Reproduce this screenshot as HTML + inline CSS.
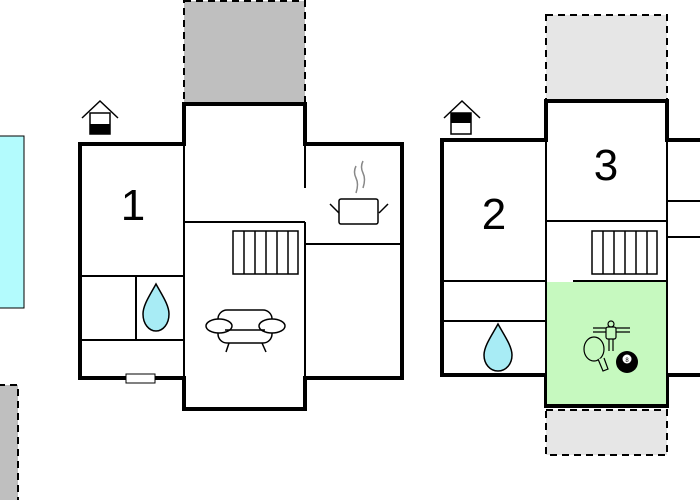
<!DOCTYPE html>
<html><head><meta charset="utf-8"><style>html,body{margin:0;padding:0;background:#fff}svg{display:block}</style></head><body>
<svg width="700" height="500" viewBox="0 0 700 500" xmlns="http://www.w3.org/2000/svg" font-family="Liberation Sans, sans-serif">
<!-- left-side elements -->
<rect x="-2" y="136" width="26" height="172" fill="#b3fbfd" stroke="#000" stroke-width="1"/>
<rect x="-2" y="385" width="20" height="120" fill="#bfbfbf" stroke="#000" stroke-width="2" stroke-dasharray="7,5"/>
<!-- plan 1 -->
<rect x="184" y="1" width="121" height="102" fill="#bfbfbf" stroke="#000" stroke-width="2" stroke-dasharray="7,5"/>
<polygon points="80,144 184,144 184,104 305,104 305,144 402,144 402,378 305,378 305,409 184,409 184,378 80,378" fill="#fff" stroke="#000" stroke-width="4"/>
<g stroke="#000" stroke-width="2" fill="none">
<line x1="184" y1="144" x2="184" y2="378"/>
<line x1="305" y1="144" x2="305" y2="188"/>
<line x1="305" y1="222" x2="305" y2="378"/>
<line x1="184" y1="222" x2="305" y2="222"/>
<line x1="305" y1="244" x2="402" y2="244"/>
<line x1="80" y1="276" x2="184" y2="276"/>
<line x1="80" y1="340" x2="184" y2="340"/>
<line x1="136" y1="276" x2="136" y2="340"/>
</g>
<rect x="126" y="374" width="29" height="9" fill="#fff" stroke="#000" stroke-width="1"/>
<text x="133" y="220" font-size="44" text-anchor="middle">1</text>
<g stroke="#000" stroke-width="1.5" fill="#fff">
<rect x="233" y="231" width="65" height="43"/>
<line x1="244" y1="231" x2="244" y2="274"/><line x1="255" y1="231" x2="255" y2="274"/><line x1="266" y1="231" x2="266" y2="274"/><line x1="277" y1="231" x2="277" y2="274"/><line x1="288" y1="231" x2="288" y2="274"/>
</g>
<path d="M156,284 C150,295 143,305 143,314 C143,324 149,331 156,331 C163,331 169,324 169,314 C169,305 162,295 156,284Z" fill="#a8ecf5" stroke="#000" stroke-width="1.5"/>
<g stroke="#000" stroke-width="1.5" fill="#fff">
<rect x="218" y="310" width="54" height="33" rx="9"/>
<ellipse cx="219" cy="326" rx="13" ry="7"/>
<ellipse cx="272" cy="326" rx="13" ry="7"/>
<line x1="229" y1="343" x2="226" y2="352"/><line x1="262" y1="343" x2="266" y2="352"/>
<line x1="225" y1="330" x2="265" y2="330"/>
</g>
<g stroke="#000" stroke-width="1.5" fill="#fff">
<rect x="339" y="199" width="39" height="25" rx="2"/>
<line x1="330" y1="204" x2="339" y2="213"/><line x1="388" y1="204" x2="379" y2="213"/>
</g>
<path d="M356,166 q-3,6 0,12 q3,6 0,15 M363,161 q-3,6 0,12 q3,6 0,15" stroke="#888" stroke-width="1.5" fill="none"/>
<g stroke="#000" stroke-width="1.5" fill="#fff">
<polyline points="82,118 100,101 118,118" fill="none"/>
<rect x="90" y="113" width="20" height="21"/>
</g>
<rect x="90" y="124" width="20" height="10" fill="#000"/>
<!-- plan 2 -->
<rect x="546" y="15" width="121" height="86" fill="#e6e6e6" stroke="#000" stroke-width="2" stroke-dasharray="7,5"/>
<rect x="546" y="410" width="121" height="45" fill="#e6e6e6" stroke="#000" stroke-width="2" stroke-dasharray="7,5"/>
<polygon points="442,140 546,140 546,101 667,101 667,140 704,140 704,375 667,375 667,406 546,406 546,375 442,375" fill="#fff" stroke="#000" stroke-width="4"/>
<rect x="547" y="282" width="119" height="122" fill="#c6f9bf"/>
<g stroke="#000" stroke-width="2" fill="none">
<line x1="546" y1="140" x2="546" y2="406"/>
<line x1="667" y1="140" x2="667" y2="406"/>
<line x1="546" y1="221" x2="667" y2="221"/>
<line x1="573" y1="281" x2="667" y2="281"/>
<line x1="442" y1="281" x2="546" y2="281"/>
<line x1="442" y1="321" x2="546" y2="321"/>
<line x1="667" y1="201" x2="700" y2="201"/>
<line x1="667" y1="237" x2="700" y2="237"/>
</g>
<text x="494" y="229" font-size="44" text-anchor="middle">2</text>
<text x="606" y="180" font-size="44" text-anchor="middle">3</text>
<g stroke="#000" stroke-width="1.5" fill="#fff">
<rect x="592" y="231" width="65" height="43"/>
<line x1="603" y1="231" x2="603" y2="274"/><line x1="614" y1="231" x2="614" y2="274"/><line x1="625" y1="231" x2="625" y2="274"/><line x1="636" y1="231" x2="636" y2="274"/><line x1="647" y1="231" x2="647" y2="274"/>
</g>
<path d="M498,324 C492,335 484,346 484,355 C484,364 490,371 498,371 C506,371 512,364 512,355 C512,346 504,335 498,324Z" fill="#a8ecf5" stroke="#000" stroke-width="1.5"/>
<g stroke="#000" stroke-width="1.2" fill="none">
<line x1="593" y1="328" x2="630" y2="328"/><line x1="593" y1="332" x2="630" y2="332"/>
<circle cx="611" cy="324" r="3"/>
<rect x="606" y="327" width="10" height="12" rx="2" fill="#c6f9bf"/>
<line x1="609" y1="339" x2="609" y2="351"/><line x1="613" y1="339" x2="613" y2="351"/>
<ellipse cx="594" cy="349" rx="10" ry="12" fill="#c6f9bf"/>
<path d="M598,359 l5,12 l5,-2 l-4,-11" fill="#c6f9bf"/>
</g>
<circle cx="627" cy="362" r="11" fill="#000"/>
<circle cx="627" cy="359" r="4.5" fill="#fff"/>
<text x="627" y="362" font-size="6" text-anchor="middle">8</text>
<g stroke="#000" stroke-width="1.5" fill="#fff">
<polyline points="444,118 462,101 480,118" fill="none"/>
<rect x="451" y="113" width="20" height="21"/>
</g>
<rect x="451" y="113" width="20" height="10" fill="#000"/>
</svg>
</body></html>
